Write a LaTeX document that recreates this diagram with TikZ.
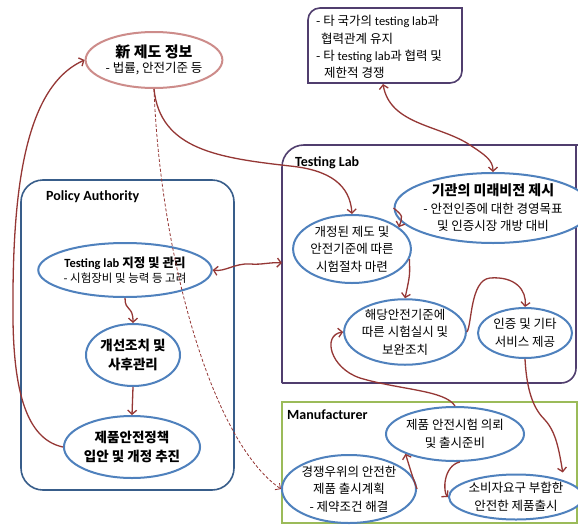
\documentclass[tikz,border=0pt]{standalone}
\usepackage{fontspec}
\setmainfont{Carlito}
\newfontfamily\kr{Noto Sans CJK KR}
\usetikzlibrary{shapes.geometric,arrows.meta}
\newcommand\la[1]{{\rmfamily #1}}
\definecolor{ellblue}{RGB}{79,129,189}
\definecolor{polblue}{RGB}{56,93,138}
\definecolor{purp}{RGB}{80,62,110}
\definecolor{olive}{RGB}{155,187,89}
\definecolor{newred}{RGB}{205,140,138}
\definecolor{arrred}{RGB}{149,55,53}
\tikzset{
  ell/.style={ellipse, draw=ellblue, line width=2pt, fill=white, inner sep=0pt, align=center,
    font=\kr\fontsize{12.5}{17.5}\selectfont},
  arr/.style={draw=arrred, line width=1.3pt, -{Straight Barb[length=4pt,width=9pt]}},
  darr/.style={draw=arrred, line width=1.3pt, {Straight Barb[length=4pt,width=9pt]}-{Straight Barb[length=4pt,width=9pt]}},
  dasharr/.style={draw=arrred, line width=0.8pt, dash pattern=on 3pt off 2pt, -{Straight Barb[length=4pt,width=8pt]}},
  boxlabel/.style={anchor=west, inner sep=0pt, font=\bfseries\fontsize{14}{16}\selectfont}
}
\begin{document}
\begin{tikzpicture}[x=1pt,y=-1pt]
\useasboundingbox (0,0) rectangle (578,525);
\fill[white] (0,0) rectangle (578,525);

% containers
\draw[polblue, line width=1.6pt, rounded corners=22pt] (21,180) rectangle (234,490);
\node[boxlabel] (palabel) at (46,197) {Policy Authority};

\draw[purp, line width=1.6pt] (282,383) -- (282,167) .. controls (282,154.8) and (291.8,145) .. (304,145)
  -- (578,145) (576,145) -- (576,368) .. controls (576,376.3) and (569.3,383) .. (561,383) -- (282,383);
\node[boxlabel] (tllabel) at (295,163) {Testing Lab};

\draw[olive, line width=1.6pt] (282,402) rectangle (577,523);
\node[boxlabel] (mflabel) at (287,415) {Manufacturer};

% top box
\draw[purp, line width=1.6pt] (308,83) -- (308,20) .. controls (308,13.4) and (313.4,8) .. (320,8)
  -- (462,8) -- (462,71) .. controls (462,77.6) and (456.6,83) .. (450,83) -- cycle;
\node[align=left, inner sep=0pt, anchor=west, font=\kr\fontsize{12.5}{17.3}\selectfont] (topbox) at (316,47)
  {- 타 국가의 \la{testing lab}과\\\hspace{5pt}협력관계 유지\\- 타 \la{testing lab}과 협력 및\\\hspace{8pt}제한적 경쟁};
\coordinate (topboxS) at (383,84);

% new info
\node[ellipse, draw=newred, line width=2pt, fill=white, inner sep=0pt, align=center,
  minimum width=132pt, minimum height=56pt] (new) at (154,60)
  {{\kr\bfseries\fontsize{15}{18}\selectfont 新 제도 정보}\\[3pt]{\kr\fontsize{12.5}{15}\selectfont - 법률, 안전기준 등}};

% policy authority ellipses
\node[ell, minimum width=154pt, minimum height=54pt] (tlmgmt) at (125,270)
  {{\bfseries\la{Testing lab} 지정 및 관리}\\[-2pt]{\fontsize{11.5}{14}\selectfont - 시험장비 및 능력 등 고려}};
\node[ell, minimum width=94pt, minimum height=62pt, font=\kr\bfseries\fontsize{13.5}{18.5}\selectfont] (improve) at (133,355)
  {개선조치 및\\사후관리};
\node[ell, minimum width=130pt, minimum height=62pt, font=\kr\bfseries\fontsize{13.5}{18.5}\selectfont] (policy) at (132,447)
  {제품안전정책\\입안 및 개정 추진};

% testing lab ellipses
\node[ell, minimum width=160pt, minimum height=70pt] (vision) at (493,208)
  {{\bfseries\fontsize{14}{17}\selectfont 기관의 미래비전 제시}\\- 안전인증에 대한 경영목표\\및 인증시장 개방 대비};
\node[ell, minimum width=114pt, minimum height=68pt] (revise) at (352,249)
  {개정된 제도 및\\안전기준에 따른\\시험절차 마련};
\node[ell, minimum width=114pt, minimum height=62pt] (test) at (405,332)
  {해당안전기준에\\따른 시험실시 및\\보완조치};
\node[ell, minimum width=94pt, minimum height=50pt] (cert) at (525,333)
  {인증 및 기타\\서비스 제공};

% manufacturer ellipses
\node[ell, minimum width=114pt, minimum height=54pt] (request) at (455,434)
  {제품 안전시험 의뢰\\및 출시준비};
\node[ell, minimum width=118pt, minimum height=68pt] (plan) at (349,489)
  {경쟁우위의 안전한\\제품 출시계획\\- 제약조건 해결};
\node[ell, minimum width=108pt, minimum height=45pt] (release) at (516,497)
  {소비자요구 부합한\\안전한 제품출시};

\coordinate (tlleft) at (282,263);

% connectors
\draw[arr] (policy.west) .. controls (30,440) and (14,400) .. (13,320)
  .. controls (12,200) and (22,88) .. (new.west);
\draw[dasharr] (new.south) .. controls (160,250) and (210,440) .. (plan.west);
\draw[arr] (new.south) .. controls (160,150) and (220,158) .. (290,166)
  .. controls (330,170) and (350,185) .. (revise.north);
\draw[darr] (topboxS) .. controls (390,125) and (440,125) .. (470,145)
  .. controls (485,155) and (493,160) .. (vision.north);
\draw[arr] (vision.west) .. controls (403,216) .. (revise.25);
\draw[darr] (tlmgmt.east) .. controls (225,272) and (235,263) .. (250,264)
  .. controls (262,265) and (270,262) .. (tlleft);
\draw[arr] (tlmgmt.south) .. controls (125,312) and (133,305) .. (improve.north);
\draw[arr] (improve.south) -- (policy.north);
\draw[arr] (revise.-10) .. controls (410,275) .. (test.north);
\draw[arr] (test.east) .. controls (472,325) and (470,280) .. (490,278)
  .. controls (515,276) and (527,290) .. (cert.north);
\draw[arr, shorten >=8pt] (cert.south) .. controls (527,395) and (535,410) .. (545,420)
  .. controls (556,432) and (559,450) .. (release.north east);
\draw[arr] (request.north) .. controls (445,390) and (400,390) .. (360,378)
  .. controls (330,368) and (322,335) .. (test.west);
\draw[arr] (plan.east) .. controls (412,475) .. (request.south west);
\draw[arr] (request.-80) .. controls (443,466) and (443,492) .. (release.west);
\end{tikzpicture}
\end{document}
